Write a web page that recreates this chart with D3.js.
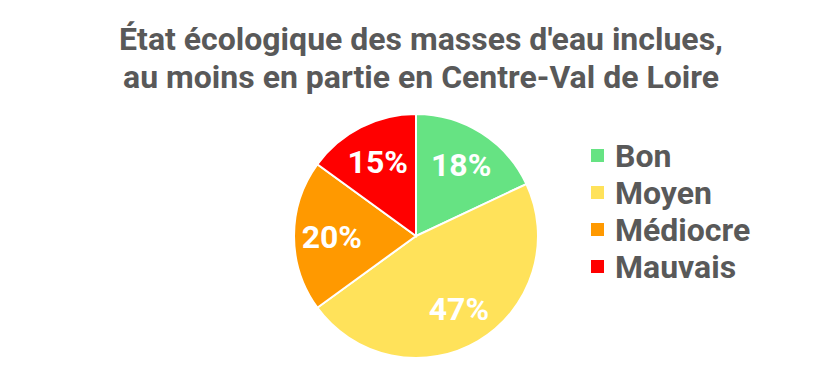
<!DOCTYPE html>
<html>
<head>
<meta charset="utf-8">
<script src="https://cdn.jsdelivr.net/npm/d3@7"></script>
<style>
  body { margin: 0; background: #fff; }
  text { font-family: Roboto, "DejaVu Sans", sans-serif; font-weight: bold; }
</style>
</head>
<body>
<svg width="826" height="385"></svg>
<script>
const categories = ["Bon", "Moyen", "Médiocre", "Mauvais"];
const values = [18, 47, 20, 15];
const colors = ["#66e383", "#ffe25a", "#ff9900", "#ff0000"];
const titleLines = ["État écologique des masses d'eau inclues,", "au moins en partie en Centre-Val de Loire"];

const svg = d3.select("svg");
const cx = 416, cy = 236, radius = 122;

// Titre
svg.selectAll(".title")
  .data(titleLines)
  .join("text")
  .attr("class", "title")
  .attr("x", 421)
  .attr("y", (d, i) => 50 + i * 38)
  .attr("text-anchor", "middle")
  .style("font-size", "32px")
  .attr("fill", "#595959")
  .text(d => d);

const data = categories.map((c, i) => ({ cat: c, value: values[i], color: colors[i] }));
const pie = d3.pie().value(d => d.value).sort(null);
const arc = d3.arc().innerRadius(0).outerRadius(radius);
const labelArc = d3.arc().innerRadius(radius * 0.69).outerRadius(radius * 0.69);

const g = svg.append("g").attr("transform", `translate(${cx},${cy})`);

g.selectAll("path")
  .data(pie(data))
  .join("path")
  .attr("d", arc)
  .attr("fill", d => d.data.color)
  .attr("stroke", "#fff")
  .attr("stroke-width", 2);

g.selectAll(".lbl")
  .data(pie(data))
  .join("text")
  .attr("class", "lbl")
  .attr("transform", d => `translate(${labelArc.centroid(d)})`)
  .attr("text-anchor", "middle")
  .attr("dy", "0.36em")
  .style("font-size", "32px")
  .attr("fill", "#fff")
  .text(d => d.data.value + "%");

// Légende
const legend = svg.append("g").attr("transform", "translate(591,155)");
categories.forEach((cat, i) => {
  legend.append("rect").attr("x", 0).attr("y", i * 37 - 6).attr("width", 13).attr("height", 13).attr("fill", colors[i]);
  legend.append("text").attr("x", 24).attr("y", i * 37).attr("dy", "0.36em")
    .style("font-size", "32px").attr("fill", "#595959").text(cat);
});
</script>
</body>
</html>
